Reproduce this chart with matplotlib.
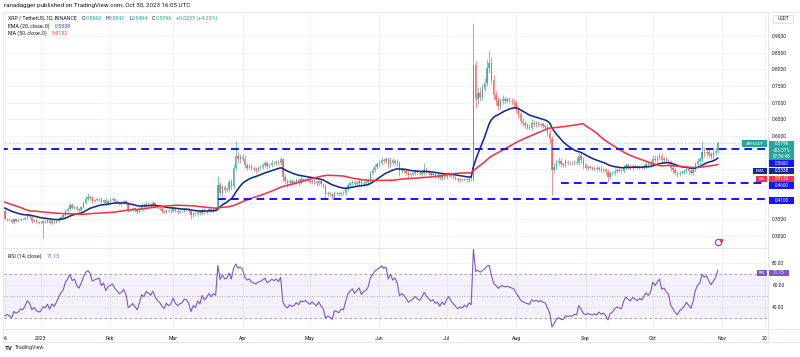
import numpy as np
import pandas as pd
import matplotlib
matplotlib.use("Agg")
import matplotlib.pyplot as plt
import matplotlib.dates as mdates
from matplotlib.lines import Line2D
from matplotlib.patches import Rectangle

plt.rcParams['font.family'] = ['Roboto', 'DejaVu Sans']

# warm-up closes (Oct 17 - Dec 15 2022), only used to seed the EMA / MA / RSI
warmup = [0.462, 0.457, 0.455, 0.452, 0.458, 0.462, 0.465, 0.455, 0.458, 0.470, 0.460, 0.462, 0.472, 0.465, 0.462,
          0.460, 0.455, 0.460, 0.505, 0.495, 0.475, 0.458, 0.385, 0.330, 0.385, 0.378, 0.372, 0.362, 0.380, 0.382,
          0.375, 0.370, 0.378, 0.380, 0.365, 0.362, 0.372, 0.398, 0.402, 0.398, 0.405, 0.402, 0.390, 0.390, 0.400,
          0.392, 0.392, 0.385, 0.392, 0.388, 0.390, 0.380, 0.388, 0.386, 0.388, 0.386, 0.380, 0.388, 0.382, 0.376]

# daily closes, Dec 16 2022 - Oct 30 2023
c_dec = [0.350, 0.352, 0.348, 0.342, 0.351, 0.346, 0.348, 0.352, 0.350, 0.355, 0.362, 0.358, 0.345, 0.348, 0.342, 0.339]
c_jan = [0.340, 0.345, 0.343, 0.347, 0.339, 0.345, 0.341, 0.346, 0.352, 0.358, 0.362, 0.375, 0.382, 0.392, 0.385, 0.388,
         0.381, 0.377, 0.386, 0.399, 0.412, 0.418, 0.415, 0.405, 0.408, 0.410, 0.412, 0.403, 0.408, 0.398, 0.405]
c_feb = [0.408, 0.410, 0.405, 0.402, 0.398, 0.400, 0.404, 0.398, 0.378, 0.380, 0.383, 0.378, 0.372, 0.380, 0.392, 0.389,
         0.397, 0.395, 0.392, 0.398, 0.390, 0.385, 0.382, 0.376, 0.372, 0.378, 0.374, 0.376]
c_mar = [0.383, 0.376, 0.372, 0.374, 0.375, 0.379, 0.378, 0.374, 0.362, 0.368, 0.365, 0.372, 0.368, 0.378, 0.372, 0.375,
         0.380, 0.376, 0.380, 0.378, 0.452, 0.428, 0.446, 0.438, 0.440, 0.462, 0.450, 0.505, 0.540, 0.530, 0.537]
c_apr = [0.532, 0.512, 0.505, 0.510, 0.503, 0.500, 0.498, 0.505, 0.507, 0.512, 0.518, 0.510, 0.514, 0.520, 0.518, 0.522,
         0.518, 0.530, 0.478, 0.464, 0.458, 0.465, 0.460, 0.462, 0.468, 0.462, 0.470, 0.468, 0.470, 0.466]
c_may = [0.462, 0.466, 0.462, 0.458, 0.464, 0.455, 0.450, 0.425, 0.428, 0.425, 0.418, 0.430, 0.428, 0.425, 0.430, 0.428,
         0.440, 0.452, 0.458, 0.462, 0.455, 0.460, 0.465, 0.455, 0.460, 0.462, 0.468, 0.488, 0.498, 0.508, 0.515]
c_jun = [0.520, 0.528, 0.525, 0.530, 0.515, 0.528, 0.520, 0.525, 0.518, 0.495, 0.500, 0.496, 0.490, 0.482, 0.485, 0.488,
         0.492, 0.488, 0.485, 0.490, 0.498, 0.492, 0.488, 0.484, 0.486, 0.480, 0.482, 0.475, 0.480, 0.476]
c_jul = [0.482, 0.486, 0.480, 0.476, 0.472, 0.468, 0.470, 0.468, 0.471, 0.468, 0.472, 0.470, 0.814, 0.712, 0.728, 0.718,
         0.742, 0.760, 0.805, 0.818, 0.768, 0.722, 0.708, 0.690, 0.705, 0.712, 0.705, 0.710, 0.706, 0.702, 0.698]
c_aug = [0.680, 0.665, 0.645, 0.638, 0.632, 0.628, 0.625, 0.640, 0.635, 0.638, 0.632, 0.636, 0.630, 0.628, 0.610, 0.592,
         0.498, 0.508, 0.520, 0.525, 0.515, 0.512, 0.522, 0.518, 0.520, 0.518, 0.522, 0.520, 0.540, 0.528, 0.512]
c_sep = [0.505, 0.508, 0.505, 0.502, 0.504, 0.500, 0.505, 0.498, 0.500, 0.492, 0.478, 0.488, 0.490, 0.495, 0.498, 0.496,
         0.494, 0.505, 0.512, 0.508, 0.505, 0.510, 0.508, 0.505, 0.508, 0.506, 0.510, 0.515, 0.512, 0.516]
c_oct = [0.532, 0.528, 0.535, 0.540, 0.528, 0.530, 0.525, 0.522, 0.505, 0.498, 0.490, 0.485, 0.490, 0.492, 0.495, 0.500,
         0.495, 0.490, 0.498, 0.515, 0.525, 0.530, 0.552, 0.548, 0.552, 0.545, 0.540, 0.548, 0.5561, 0.5796]

# upper / lower wick lengths in thousandths of a dollar
hi_w = [4, 3, 3, 4, 3, 3, 2, 3, 2, 3, 6, 4, 3, 3, 3, 3,
        4, 3, 4, 3, 4, 3, 3, 3, 4, 3, 4, 6, 5, 8, 6, 5, 6, 4, 5, 6, 8, 10, 6, 5, 4, 5, 6, 5, 4, 5, 4,
        5, 6, 4, 4, 4, 5, 5, 4, 4, 4, 3, 4, 3, 6, 8, 6, 5, 4, 4, 6, 4, 4, 5, 4, 3, 4, 4, 4,
        6, 4, 4, 3, 4, 4, 4, 3, 4, 4, 4, 5, 4, 5, 5, 4, 4, 4, 5, 4, 28, 10, 8, 8, 6, 8, 10, 12, 45, 12, 8,
        8, 10, 6, 6, 6, 6, 6, 5, 5, 6, 8, 6, 5, 8, 6, 6, 6, 8, 5, 8, 6, 6, 5, 6, 6, 6, 8, 5, 4, 6,
        6, 6, 5, 6, 5, 6, 5, 6, 6, 5, 5, 6, 4, 4, 5, 5, 6, 6, 6, 5, 5, 5, 6, 6, 5, 5, 6, 8, 8, 8, 8,
        8, 8, 6, 6, 8, 8, 6, 6, 6, 6, 6, 5, 8, 6, 5, 5, 6, 5, 6, 8, 22, 8, 6, 5, 5, 6, 6, 5, 6, 6,
        6, 6, 6, 5, 5, 5, 5, 4, 4, 4, 5, 5, 124, 10, 20, 18, 15, 15, 25, 37, 20, 15, 12, 10, 10, 10, 8, 8, 8, 8, 8,
        10, 10, 12, 10, 8, 8, 8, 12, 8, 8, 6, 6, 6, 6, 8, 10, 8, 12, 10, 12, 8, 8, 8, 6, 6, 5, 6, 14, 8, 8, 8,
        8, 6, 5, 5, 5, 6, 6, 6, 5, 5, 8, 8, 6, 6, 6, 5, 5, 8, 8, 6, 6, 6, 5, 5, 5, 5, 6, 6, 6, 8,
        10, 12, 8, 8, 8, 6, 6, 6, 6, 8, 6, 6, 6, 5, 5, 6, 6, 6, 8, 8, 8, 8, 33, 14, 10, 10, 8, 10, 10, 5]
lo_w = [3, 4, 3, 4, 5, 3, 3, 3, 3, 2, 3, 4, 5, 4, 4, 3,
        3, 45, 4, 3, 4, 3, 4, 3, 3, 4, 3, 3, 4, 4, 5, 4, 5, 6, 4, 3, 4, 5, 6, 5, 4, 4, 5, 5, 4, 6, 4,
        4, 4, 5, 4, 5, 4, 4, 5, 6, 4, 4, 5, 6, 4, 4, 5, 5, 4, 4, 5, 6, 4, 5, 6, 4, 4, 5, 4,
        4, 5, 6, 4, 3, 4, 4, 5, 10, 6, 5, 6, 5, 4, 6, 5, 4, 4, 4, 4, 4, 8, 10, 8, 6, 6, 8, 6, 8, 10, 10,
        6, 8, 8, 5, 6, 6, 8, 6, 5, 6, 6, 8, 6, 6, 6, 5, 6, 6, 12, 8, 10, 6, 6, 5, 6, 8, 5, 5, 6, 5,
        6, 5, 6, 8, 6, 6, 6, 12, 6, 6, 8, 6, 5, 5, 6, 5, 5, 6, 5, 5, 6, 5, 6, 6, 5, 5, 5, 5, 6, 6, 6,
        8, 6, 6, 6, 12, 8, 8, 6, 8, 15, 6, 6, 8, 8, 6, 5, 5, 6, 6, 6, 8, 6, 6, 6, 5, 6, 8, 8, 6, 6,
        5, 5, 6, 6, 5, 5, 5, 4, 4, 5, 5, 5, 5, 28, 15, 12, 10, 8, 10, 15, 12, 15, 15, 12, 8, 8, 8, 6, 8, 8, 10,
        10, 10, 10, 8, 8, 8, 8, 6, 8, 8, 6, 6, 6, 8, 10, 12, 74, 10, 8, 8, 8, 6, 6, 6, 6, 5, 5, 6, 8, 8, 10,
        8, 6, 5, 5, 6, 6, 6, 6, 5, 8, 16, 8, 6, 6, 6, 5, 5, 6, 6, 6, 6, 6, 5, 5, 5, 5, 6, 6, 6, 6,
        6, 6, 8, 6, 8, 6, 6, 6, 10, 8, 8, 8, 6, 5, 5, 6, 8, 8, 6, 6, 6, 8, 8, 10, 8, 8, 8, 8, 6, 7]

closes = c_dec + c_jan + c_feb + c_mar + c_apr + c_may + c_jun + c_jul + c_aug + c_sep + c_oct
dates = pd.date_range("2022-12-16", "2023-10-30", freq="D")
assert len(closes) == len(dates) == len(hi_w) == len(lo_w), (len(closes), len(dates), len(hi_w), len(lo_w))

levels_full = [0.56]
level_46 = 0.46
level_41 = 0.41
month_ticks = ["2022-12-16", "2023-01-01", "2023-02-01", "2023-03-01", "2023-04-01", "2023-05-01",
               "2023-06-01", "2023-07-01", "2023-08-01", "2023-09-01", "2023-10-01", "2023-11-01", "2023-11-20"]
month_labels = ["6", "2023", "Feb", "Mar", "Apr", "May", "Jun", "Jul", "Aug", "Sep", "Oct", "Nov", "20"]

# ---- indicators
s = pd.Series(warmup + closes)
ema = s.ewm(span=20, adjust=False).mean().values[len(warmup):]
ma = s.rolling(50).mean().values[len(warmup):]
d = s.diff()
up = d.clip(lower=0).ewm(alpha=1 / 14, adjust=False).mean()
dn = (-d.clip(upper=0)).ewm(alpha=1 / 14, adjust=False).mean()
rsi = (100 - 100 / (1 + up / dn)).values[len(warmup):]

c = np.array(closes)
o = np.array([warmup[-1]] + closes[:-1])
h = np.maximum(o, c) + np.array(hi_w) / 1000
l = np.minimum(o, c) - np.array(lo_w) / 1000
x = mdates.date2num(dates)

UP, DN = "#26a69a", "#ef5350"
W, H = 800, 357
fig = plt.figure(figsize=(8, 3.57), dpi=100)
fig.patch.set_facecolor("white")


def fx(px):
    return px / W


def fy(py):
    return 1 - py / H


ax = fig.add_axes([fx(4), fy(248), fx(768) - fx(4), fy(13) - fy(248)])
ax2 = fig.add_axes([fx(4), fy(329), fx(768) - fx(4), fy(248) - fy(329)], sharex=ax)

x0 = mdates.date2num(pd.Timestamp("2023-01-01"))
ax.set_xlim(x0 - 16.4, x0 + 324.4)
ax.set_ylim(0.264, 0.969)

cols = np.where(c >= o, UP, DN)
ax.vlines(x, l, h, colors=cols, lw=0.6, alpha=0.75, zorder=2)
ax.bar(x, np.maximum(np.abs(c - o), 0.0015), bottom=np.minimum(o, c), width=0.62, color=cols,
       alpha=0.75, linewidth=0, zorder=2)

ax.plot(x, ema, color="#142a8c", lw=1.15, zorder=3)
ax.plot(x, ma, color="#f23645", lw=1.15, zorder=3)

dash = (0, (4, 2.6))
xr = x0 + 323.5
for lv in levels_full:
    ax.hlines(lv, x[0] - 2, xr, colors="#1414ff", lw=1.4, linestyles=dash, zorder=4)
ax.hlines(level_46, mdates.date2num(pd.Timestamp("2023-08-21")), xr, colors="#1414ff", lw=1.4, linestyles=dash, zorder=4)
ax.hlines(level_41, mdates.date2num(pd.Timestamp("2023-03-21")), xr, colors="#1414ff", lw=1.4, linestyles=dash, zorder=4)
ax.axhline(c[-1], color=UP, lw=0.8, ls=(0, (1, 1.5)), alpha=0.45, zorder=1)

ax.plot([x[-1]], [0.282], marker="o", ms=4.5, mfc="white", mec="#a33cc8", mew=0.9, zorder=5)
ax.plot([x[-1] + 1.3], [0.288], marker="o", ms=1.5, mfc="#f23645", mec="#f23645", zorder=6)

# ---- axes styling
yt = np.round(np.arange(0.30, 0.901, 0.05), 2)
ax.set_yticks(yt)
ax.set_yticklabels(["" if 0.39 < v < 0.56 else "%.4f" % v for v in yt])
ax.yaxis.tick_right()
for a in (ax, ax2):
    a.grid(True, color="#f0f3fa", lw=0.8)
    a.set_axisbelow(True)
    for sp in a.spines.values():
        sp.set_visible(False)
    a.tick_params(length=0, labelsize=3.5, colors="#131722", pad=3)
ax.tick_params(axis="x", labelbottom=False)

ax2.set_ylim(20.6, 93.1)
ax2.yaxis.tick_right()
ax2.set_yticks([40, 60, 80])
ax2.set_yticklabels(["40.00", "60.00", "80.00"])
ax2.axhspan(30, 70, color="#7e57c2", alpha=0.08, lw=0)
for lv, ls in ((70, (0, (3, 3))), (50, (0, (1, 2))), (30, (0, (3, 3)))):
    ax2.axhline(lv, color="#9598a1", lw=0.6, ls=ls)
ax2.plot(x, rsi, color="#7e57c2", lw=0.8)
ax2.set_xticks(mdates.date2num(pd.to_datetime(month_ticks)))
ax2.set_xticklabels(month_labels)
ax2.tick_params(axis="x", pad=5, labelsize=3.7)

# ---- frame lines
for (xa, ya, xb, yb) in [(3, 12, 800, 12), (3, 248, 768, 248), (3, 329, 800, 329), (3, 342, 800, 342),
                         (768, 12, 768, 342), (3, 12, 3, 342)]:
    fig.add_artist(Line2D([fx(xa), fx(xb)], [fy(ya), fy(yb)], color="#e0e3eb", lw=0.6))


# ---- texts
def put_line(px, py, pieces, size):
    r = fig.canvas.get_renderer()
    for txt, col, gap in pieces:
        t = fig.text(fx(px), fy(py), txt, color=col, fontsize=size, va="center", ha="left")
        px += t.get_window_extent(renderer=r).width + gap


DARK = "#131722"
fig.text(fx(4), fy(5), "ranadagger published on TradingView.com, Oct 30, 2023 16:05 UTC", fontsize=4.5,
         color=DARK, va="center")
put_line(8, 18.5, [("XRP / TetherUS, 1D, BINANCE", DARK, 5), ("O", DARK, 0), ("0.5560", UP, 4),
                   ("H", DARK, 0), ("0.5843", UP, 4), ("L", DARK, 0), ("0.5494", UP, 4),
                   ("C", DARK, 0), ("0.5796", UP, 4), ("+0.0235 (+4.23%)", UP, 0)], 3.75)
put_line(8, 26, [("EMA (20, close, 0)", DARK, 5), ("0.5338", "#2447c8", 0)], 3.75)
put_line(8, 33.5, [("MA (50, close, 0)", DARK, 5), ("0.5132", "#f23645", 0)], 3.75)
put_line(8, 256, [("RSI (14, close)", DARK, 5), ("71.15", "#7e57c2", 0)], 3.75)


def tag(xa, ya, xb, yb, color, lines, size=3.3, tc="white"):
    fig.add_artist(Rectangle((fx(xa), fy(yb)), fx(xb) - fx(xa), fy(ya) - fy(yb), transform=fig.transFigure,
                             facecolor=color, edgecolor="none", zorder=10))
    n = len(lines)
    for i, t in enumerate(lines):
        yy = ya + (yb - ya) * (i + 0.5) / n
        fig.text(fx((xa + xb) / 2), fy(yy), t, color=tc, fontsize=size, ha="center", va="center", zorder=11)


BLUE = "#1414ff"
tag(742, 140.5, 767, 147, UP, ["XRPUSDT"], 3.0)
tag(769, 140.5, 794, 159.5, UP, ["0.5796", "+53.37%", "07:54:48"])
tag(769, 160.5, 794, 167, BLUE, ["0.5600"])
tag(753, 167.5, 767, 174, "#142a8c", ["EMA"], 3.0)
tag(769, 167.5, 794, 174, "#142a8c", ["0.5338"])
tag(756, 175.5, 767, 182, "#f23645", ["MA"], 3.0)
tag(769, 175.5, 794, 182, "#f23645", ["0.5132"])
tag(769, 182.2, 794, 188.7, BLUE, ["0.4600"])
tag(769, 197, 794, 203.5, BLUE, ["0.4100"])
tag(757, 270, 767, 276, "#7e57c2", ["RSI"], 3.0)
tag(769, 270, 789, 276, "#7e57c2", ["71.15"])

fig.add_artist(Rectangle((fx(773), fy(23)), fx(20), fy(15) - fy(23), transform=fig.transFigure,
                         facecolor="white", edgecolor="#d1d4dc", lw=0.5, zorder=10))
fig.text(fx(783), fy(19), "USDT", fontsize=3.3, color=DARK, ha="center", va="center", zorder=11)

fig.text(fx(5), fy(348), "TV", fontsize=4.4, color=DARK, weight="bold", va="center")
fig.text(fx(15), fy(348), "TradingView", fontsize=3.8, color="#2a2e39", va="center")

fig.savefig("out.png", dpi=100, facecolor="white")
